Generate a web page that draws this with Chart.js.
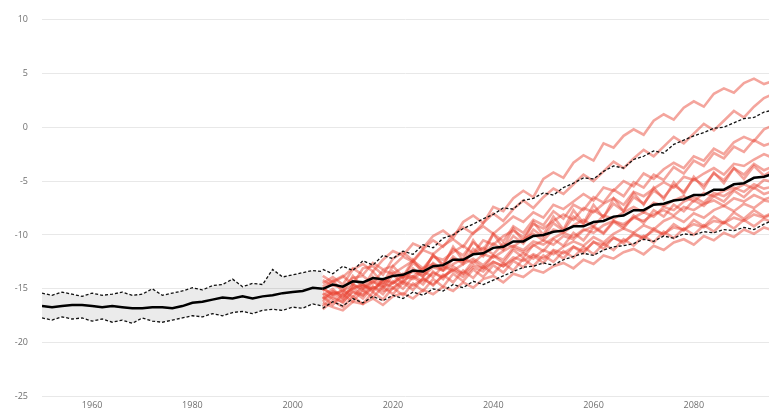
<!DOCTYPE html>
<html>
<head>
<meta charset="utf-8">
<script src="https://cdn.jsdelivr.net/npm/chart.js@4/dist/chart.umd.min.js"></script>
<style>
  html, body { margin: 0; padding: 0; background: #fff; }
  #wrap { width: 769px; height: 416px; position: relative; }
</style>
</head>
<body>
<div id="wrap"><canvas id="c"></canvas></div>
<script>
// historical period, every 2 years
const histYears = [1950, 1952, 1954, 1956, 1958, 1960, 1962, 1964, 1966, 1968, 1970, 1972, 1974, 1976, 1978,
  1980, 1982, 1984, 1986, 1988, 1990, 1992, 1994, 1996, 1998, 2000, 2002, 2004, 2006]
const histMean = [-16.6, -16.7, -16.6, -16.5, -16.5, -16.6, -16.7, -16.6, -16.7, -16.8, -16.8, -16.7, -16.7, -16.8, -16.6,
  -16.3, -16.2, -16.0, -15.8, -15.9, -15.7, -15.9, -15.7, -15.6, -15.4, -15.3, -15.2, -14.9, -15.0]
const histUpper = [-15.4, -15.6, -15.3, -15.5, -15.7, -15.4, -15.6, -15.5, -15.3, -15.6, -15.5, -15.0, -15.6, -15.4, -15.2,
  -14.9, -15.1, -14.7, -14.6, -14.1, -14.8, -14.5, -14.6, -13.2, -13.9, -13.7, -13.5, -13.3, -13.4]
const histLower = [-17.7, -17.9, -17.6, -17.8, -17.7, -18.0, -17.8, -18.1, -17.9, -18.2, -17.7, -18.0, -18.1, -17.9, -17.7,
  -17.5, -17.6, -17.3, -17.5, -17.2, -17.1, -17.3, -17.0, -16.9, -17.0, -16.7, -16.8, -16.4, -16.6]

// projections, every 2 years
const futYears = [2006, 2008, 2010, 2012, 2014, 2016, 2018, 2020, 2022, 2024, 2026, 2028, 2030, 2032, 2034, 2036,
  2038, 2040, 2042, 2044, 2046, 2048, 2050, 2052, 2054, 2056, 2058, 2060, 2062, 2064, 2066, 2068, 2070, 2072,
  2074, 2076, 2078, 2080, 2082, 2084, 2086, 2088, 2090, 2092, 2094, 2096]
const futMean = [-15.0, -14.6, -14.8, -14.3, -14.4, -14.0, -14.1, -13.8, -13.7, -13.3, -13.4, -12.9, -12.8, -12.3, -12.3, -11.8,
  -11.7, -11.2, -11.1, -10.6, -10.6, -10.1, -10.0, -9.7, -9.6, -9.2, -9.2, -8.8, -8.7, -8.3, -8.2, -7.7, -7.7, -7.2,
  -7.1, -6.8, -6.7, -6.3, -6.3, -5.8, -5.8, -5.3, -5.2, -4.7, -4.6, -4.3]
const futUpper = [-13.2, -13.6, -12.9, -13.3, -12.4, -12.8, -11.9, -12.2, -11.5, -11.8, -10.9, -11.2, -10.3, -10.0, -9.4, -9.0,
  -8.5, -8.1, -7.5, -7.6, -6.8, -6.6, -6.1, -6.3, -5.6, -5.2, -4.7, -4.8, -4.1, -3.6, -3.8, -3.0, -2.7, -2.2,
  -2.4, -1.6, -1.2, -0.8, -0.5, -0.1, 0.0, 0.4, 0.8, 0.9, 1.4, 1.6]
const futLower = [-16.8, -16.2, -16.6, -15.9, -16.3, -15.7, -16.1, -15.6, -15.9, -15.3, -15.6, -15.0, -15.2, -14.6, -14.9, -14.3,
  -14.6, -14.2, -13.8, -13.4, -13.0, -12.9, -12.6, -12.8, -12.3, -12.0, -11.7, -11.9, -11.4, -11.1, -11.0, -10.8, -10.4, -10.6,
  -10.1, -10.3, -9.9, -10.0, -9.7, -9.8, -9.5, -9.6, -9.3, -9.5, -9.0, -8.6]

// individual model runs
const models = [
  [-14.5, -13.9, -14.6, -13.2, -12.7, -13.4, -12.3, -11.5, -11.9, -10.8, -11.2, -10.1, -9.6, -10.3, -8.8, -8.2,
   -8.9, -7.4, -7.8, -6.6, -5.9, -6.5, -4.8, -4.2, -4.7, -3.3, -2.6, -3.1, -1.5, -1.9, -0.8, -0.2, -0.7, 0.6,
   1.2, 0.7, 1.8, 2.4, 1.9, 3.1, 3.6, 3.2, 4.1, 4.5, 4.0, 4.3],
  [-15.2, -14.3, -13.8, -14.6, -13.1, -12.9, -13.7, -12.2, -11.6, -12.4, -11.3, -10.5, -11.1, -10.0, -9.3, -9.9,
   -8.9, -8.0, -8.7, -7.6, -6.8, -7.5, -6.5, -5.7, -6.2, -5.3, -4.4, -5.0, -4.1, -3.2, -3.8, -2.9, -2.1, -2.7,
   -1.8, -0.9, -1.5, -0.6, 0.3, -0.3, 0.6, 1.5, 0.9, 1.9, 2.7, 3.1],
  [-13.8, -14.4, -13.9, -13.1, -13.7, -12.6, -13.2, -12.9, -12.0, -12.5, -11.4, -11.8, -11.0, -10.4, -11.1, -9.8,
   -9.2, -9.9, -9.1, -8.3, -8.8, -7.9, -8.4, -7.2, -7.6, -6.9, -6.2, -6.8, -5.6, -5.9, -5.0, -5.5, -4.3, -4.8,
   -3.9, -3.3, -3.8, -2.7, -3.1, -2.0, -2.5, -1.4, -0.9, -1.3, -0.2, 0.2],
  [-15.6, -15.0, -15.9, -14.6, -15.2, -13.9, -14.7, -13.4, -14.0, -12.6, -13.3, -11.9, -12.7, -11.3, -11.9, -10.7,
   -11.4, -9.9, -10.6, -9.2, -9.8, -8.6, -9.1, -7.8, -8.5, -7.2, -7.7, -6.5, -7.0, -5.8, -6.4, -5.1, -5.6, -4.4,
   -4.9, -3.7, -4.3, -3.1, -3.6, -2.4, -2.9, -1.8, -2.3, -1.2, -1.7, -1.4],
  [-14.2, -14.7, -14.9, -14.0, -13.8, -14.5, -13.3, -13.6, -13.0, -12.4, -13.1, -12.0, -12.3, -11.6, -11.0, -11.7,
   -10.5, -10.9, -10.1, -9.6, -10.2, -9.0, -9.4, -8.7, -8.1, -8.6, -7.5, -7.9, -7.1, -6.6, -7.2, -6.0, -6.4, -5.7,
   -5.1, -5.6, -4.6, -4.9, -4.3, -3.8, -4.4, -3.4, -3.6, -3.0, -2.5, -2.9],
  [-16.2, -15.4, -16.0, -14.9, -15.6, -14.3, -15.0, -13.7, -14.5, -13.1, -13.9, -12.6, -13.2, -12.0, -12.7, -11.3,
   -12.0, -10.8, -11.4, -10.1, -10.8, -9.5, -10.2, -8.9, -9.6, -8.3, -9.0, -7.7, -8.3, -7.1, -7.8, -6.5, -7.1, -5.9,
   -6.5, -5.4, -6.0, -4.8, -5.4, -4.3, -4.9, -3.8, -4.4, -3.4, -4.0, -3.6],
  [-15.0, -15.5, -15.2, -14.6, -15.0, -14.3, -14.8, -14.5, -13.8, -14.1, -13.4, -13.9, -12.9, -13.3, -12.7, -12.2,
   -12.8, -11.9, -12.3, -11.2, -11.6, -11.0, -10.5, -10.9, -10.1, -10.4, -9.6, -9.2, -9.8, -8.7, -9.0, -8.4, -7.9, -8.3,
   -7.4, -7.7, -6.9, -6.5, -7.0, -6.1, -6.4, -5.8, -5.3, -5.7, -4.9, -5.1],
  [-16.6, -15.7, -16.3, -15.2, -15.9, -14.8, -15.5, -14.3, -15.0, -13.9, -14.6, -13.4, -14.1, -12.9, -13.6, -12.4,
   -13.1, -11.9, -12.6, -11.4, -12.1, -10.9, -11.5, -10.4, -11.0, -9.8, -10.5, -9.3, -9.9, -8.8, -9.4, -8.2, -8.9, -7.7,
   -8.3, -7.2, -7.8, -6.8, -7.3, -6.4, -6.9, -5.9, -6.5, -5.6, -6.2, -5.9],
  [-15.4, -15.9, -16.2, -15.3, -15.6, -14.8, -15.2, -15.0, -14.3, -14.7, -14.1, -14.6, -13.8, -13.3, -13.9, -13.0,
   -13.4, -12.5, -12.9, -12.3, -11.7, -12.2, -11.4, -11.8, -11.1, -10.6, -11.0, -10.2, -10.7, -9.9, -9.4, -9.8, -9.1, -9.5,
   -8.7, -8.3, -8.8, -8.0, -8.4, -7.7, -7.3, -7.8, -7.1, -7.5, -6.8, -7.0],
  [-16.9, -16.1, -16.7, -15.7, -16.4, -15.3, -16.0, -14.9, -15.6, -14.5, -15.2, -14.1, -14.8, -13.6, -14.3, -13.2,
   -13.9, -12.8, -13.5, -12.4, -13.0, -11.9, -12.6, -11.5, -12.2, -11.1, -11.7, -10.6, -11.3, -10.2, -10.8, -9.8, -10.4, -9.4,
   -10.0, -9.0, -9.6, -8.6, -9.2, -8.3, -8.9, -7.9, -8.5, -7.7, -8.3, -7.9],
  [-16.3, -16.7, -17.0, -16.2, -16.4, -15.9, -16.5, -15.7, -15.4, -15.9, -15.1, -15.5, -14.8, -15.2, -14.4, -14.9,
   -14.1, -13.8, -14.4, -13.6, -13.9, -13.2, -13.5, -12.9, -12.6, -13.1, -12.3, -12.7, -11.9, -12.2, -11.6, -11.3, -11.8, -11.0,
   -11.4, -10.7, -10.4, -10.9, -10.1, -10.5, -9.8, -10.2, -9.5, -9.9, -9.3, -9.6],
  [-14.8, -14.2, -15.3, -13.8, -14.9, -13.4, -14.5, -12.9, -13.9, -12.3, -13.6, -11.8, -12.9, -11.1, -12.4, -10.5,
   -11.8, -9.9, -11.2, -9.4, -10.6, -8.8, -10.0, -8.3, -9.5, -7.7, -8.9, -7.2, -8.4, -6.6, -7.8, -6.1, -7.2, -5.6,
   -6.7, -5.1, -6.2, -4.6, -5.7, -4.2, -5.2, -3.8, -4.8, -3.6, -4.5, -3.9],
  [-15.9, -15.3, -15.5, -15.0, -14.6, -15.1, -14.2, -14.5, -13.9, -13.4, -13.8, -13.0, -13.3, -12.7, -12.2, -12.6,
   -11.8, -12.1, -11.5, -11.0, -11.4, -10.6, -10.9, -10.3, -9.8, -10.2, -9.5, -9.8, -9.1, -8.7, -9.2, -8.4, -8.7, -8.1,
   -7.7, -8.2, -7.4, -7.7, -7.1, -6.8, -7.3, -6.6, -6.9, -6.3, -6.7, -6.4],
  [-15.7, -16.5, -15.5, -16.2, -15.1, -15.8, -14.8, -15.5, -14.4, -15.1, -14.0, -14.7, -13.7, -14.4, -13.3, -14.0,
   -12.9, -13.6, -12.6, -13.3, -12.2, -12.9, -11.9, -12.5, -11.5, -12.1, -11.1, -11.8, -10.8, -11.4, -10.4, -11.0, -10.1, -10.7,
   -9.7, -10.3, -9.4, -10.0, -9.1, -9.7, -8.8, -9.4, -8.6, -9.2, -8.5, -8.9],
  [-14.9, -15.6, -15.1, -15.8, -14.7, -15.0, -14.4, -14.9, -14.2, -13.8, -14.3, -13.5, -13.9, -13.2, -13.6, -12.8,
   -13.1, -12.5, -12.9, -12.1, -12.4, -11.8, -12.2, -11.4, -11.7, -11.1, -11.5, -10.7, -10.9, -10.3, -10.6, -10.0, -10.2, -9.6,
   -9.9, -9.3, -9.5, -9.0, -9.3, -8.7, -8.9, -8.4, -8.7, -8.1, -8.4, -8.0],
  [-16.0, -15.2, -15.7, -14.9, -14.6, -15.3, -14.1, -14.4, -13.6, -13.9, -13.1, -12.7, -13.3, -12.2, -12.5, -11.7,
   -11.2, -11.8, -10.8, -11.1, -10.4, -9.9, -10.5, -9.5, -9.8, -9.1, -8.6, -9.2, -8.2, -8.5, -7.9, -7.4, -7.9, -7.0,
   -7.3, -6.8, -6.4, -6.9, -6.1, -6.4, -5.9, -5.6, -6.0, -5.3, -5.7, -5.5]
]

const yTicks = [-25, -20, -15, -10, -5, 0, 5, 10]
const xTicks = [1960, 1980, 2000, 2020, 2040, 2060, 2080]

const pts = (xs, ys) => xs.map((x, i) => ({ x, y: ys[i] }))

const dashed = { borderColor: '#111', borderWidth: 1.3, borderDash: [3, 2], pointRadius: 0, tension: 0 }
const datasets = [
  { data: pts(histYears, histMean), borderColor: '#000', borderWidth: 2.5, pointRadius: 0, fill: false },
  { data: pts(futYears, futMean), borderColor: '#000', borderWidth: 2.5, pointRadius: 0, fill: false },
  { ...dashed, data: pts(futYears, futUpper), fill: false },
  { ...dashed, data: pts(futYears, futLower), fill: false },
  { ...dashed, data: pts(histYears, histUpper), fill: '+1', backgroundColor: 'rgba(0,0,0,0.08)' },
  { ...dashed, data: pts(histYears, histLower), fill: false },
  ...models.map(m => ({
    data: pts(futYears, m),
    borderColor: 'rgba(232,66,50,0.48)',
    borderWidth: 2.6,
    pointRadius: 0,
    fill: false
  }))
]

const tickFont = { family: 'Open Sans', size: 9 }

new Chart(document.getElementById('c'), {
  type: 'line',
  data: { datasets },
  options: {
    responsive: true,
    maintainAspectRatio: false,
    animation: false,
    layout: { padding: { top: 17, right: 0, bottom: 0, left: 0 } },
    plugins: {
      legend: { display: false },
      tooltip: { enabled: false },
      filler: { drawTime: 'beforeDatasetsDraw' }
    },
    scales: {
      x: {
        type: 'linear',
        min: 1950,
        max: 2095,
        afterBuildTicks: (s) => { s.ticks = xTicks.map(v => ({ value: v })) },
        afterFit: (s) => { s.height = 14 },
        grid: { display: false, drawTicks: false },
        border: { display: false },
        ticks: { font: tickFont, color: '#6f6f6f', padding: 3, maxRotation: 0, callback: (v) => String(v) }
      },
      y: {
        min: -25,
        max: 10,
        afterBuildTicks: (s) => { s.ticks = yTicks.map(v => ({ value: v })) },
        afterFit: (s) => { s.width = 42 },
        grid: { color: '#e8e8e8', drawTicks: false },
        border: { display: false },
        ticks: { font: tickFont, color: '#6f6f6f', padding: 14 }
      }
    }
  }
})
</script>
</body>
</html>
